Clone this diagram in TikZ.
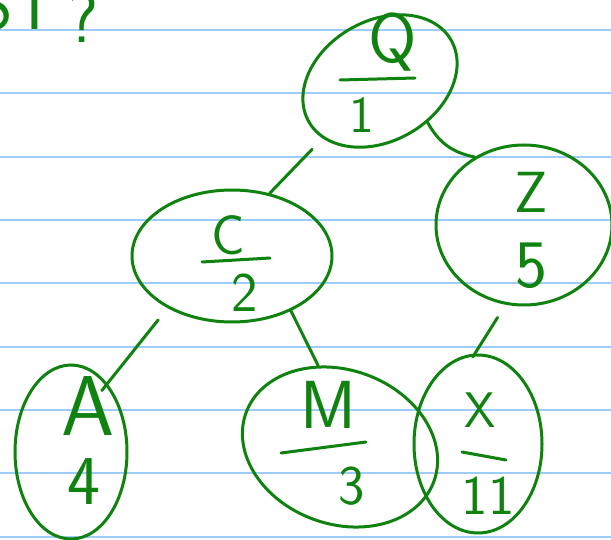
\documentclass[tikz,border=0pt]{standalone}
\usepackage{fontspec}
\usetikzlibrary{shapes,positioning}
\definecolor{PenGreen}{RGB}{16,130,16}
\definecolor{RuleBlue}{RGB}{158,204,250}

\begin{document}
\begin{tikzpicture}[x=1pt, y=-1pt,
  key/.style={draw=PenGreen, line width=3pt, ellipse, inner sep=0pt},
  glyph/.style={text=PenGreen, inner sep=0pt, font=\sffamily\fontsize{#1}{#1}\selectfont},
  glyph/.default=54,
  pen/.style={draw=PenGreen, line width=3pt, line cap=round}]
  \useasboundingbox (0,0) rectangle (611,540);
  \clip (0,0) rectangle (611,540);
  \fill[white] (0,0) rectangle (611,540);

  % Ruled paper
  \foreach \y in {0,...,8}
    \draw[RuleBlue, line width=2pt] (0, 30+63.33*\y) -- (611, 30+63.33*\y);

  % Title, cut at the edge
  \node[glyph=70, anchor=base west] (title) at (-68,30) {BST\hspace{10pt}\raisebox{-13pt}{?}};

  % Tree nodes
  \node[key, minimum width=164pt, minimum height=120pt, rotate=30] (q) at (380,81) {};
  \node[key, minimum width=200pt, minimum height=132pt] (c) at (232,256) {};
  \node[key, minimum width=176pt, minimum height=160pt] (z) at (524,225) {};
  \node[key, minimum width=112pt, minimum height=174pt] (a) at (71,452) {};
  \node[key, minimum width=200pt, minimum height=154pt, rotate=-20] (m) at (340,447) {};
  \node[key, minimum width=128pt, minimum height=178pt] (x) at (478,444) {};

  % Edges
  \draw[pen, shorten <=15pt] (q.195) -- (c.59);
  \draw[pen] (q.289) to[bend right=25] (z.126);
  \draw[pen, shorten <=15pt, shorten >=-9pt] (c.219) -- (a.62);
  \draw[pen] (c.317) -- (m.125);
  \draw[pen, shorten <=15pt, shorten >=-4pt] (z.257) -- (x.92);

  % Keys and values
  \node[glyph=70] (qkey) at (393,42) {Q};
  \draw[pen] (340,80) -- (415,78);
  \node[glyph=52] (qval) at (362,115) {1};

  \node[glyph=56] (ckey) at (228,235) {C};
  \draw[pen] (202,262) -- (270,258);
  \node[glyph=56] (cval) at (245,293) {2};

  \node[glyph=58] (zkey) at (531,192) {Z};
  \node[glyph=68] (zval) at (531,266) {5};

  \node[glyph=85] (akey) at (88,406) {A};
  \node[glyph=70] (aval) at (84,482) {4};

  \node[glyph=68] (mkey) at (328,405) {M};
  \draw[pen] (281,453) -- (366,442);
  \node[glyph=56] (mval) at (352,486) {3};

  \node[glyph=50] (xkey) at (480,410) {X};
  \draw[pen] (462,452) -- (506,460);
  \node[glyph=56] (xval) at (488,496) {11};
\end{tikzpicture}
\end{document}
